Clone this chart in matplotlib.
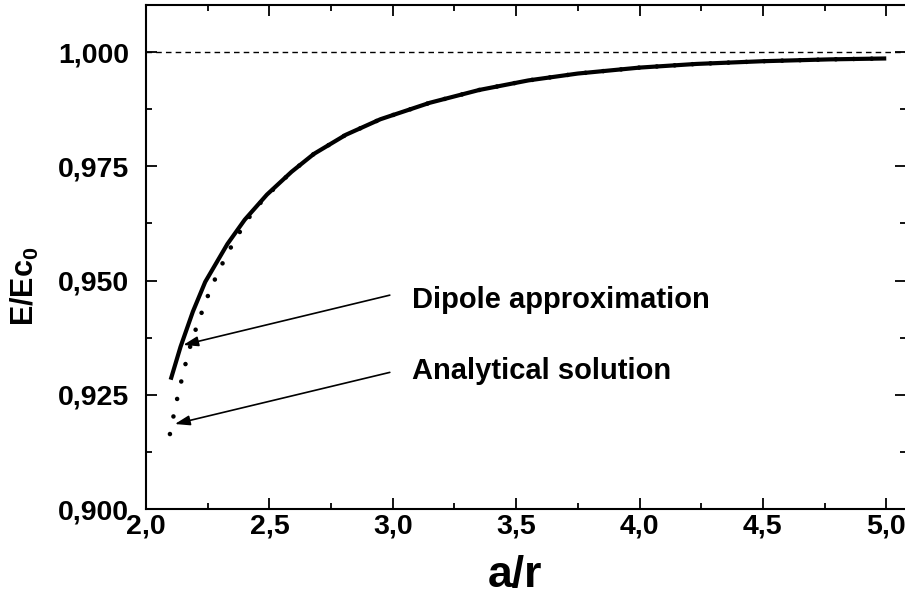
import matplotlib
matplotlib.use("Agg")
import matplotlib.pyplot as plt
from matplotlib.ticker import MultipleLocator, FuncFormatter

plt.rcParams['font.family'] = ['Liberation Sans', 'DejaVu Sans']
plt.rcParams['font.weight'] = 'bold'
plt.rcParams['mathtext.fontset'] = 'custom'
plt.rcParams['mathtext.rm'] = 'Liberation Sans:bold'
plt.rcParams['mathtext.it'] = 'Liberation Sans:bold'
plt.rcParams['mathtext.bf'] = 'Liberation Sans:bold'

# Dipole approximation (solid curve)
dipole_x = [2.10, 2.14, 2.19, 2.24, 2.33, 2.40, 2.49, 2.59, 2.68, 2.81,
            2.95, 3.15, 3.35, 3.55, 3.75, 4.00, 4.23, 4.50, 4.77, 5.00]
dipole_y = [0.9283, 0.9355, 0.9432, 0.9497, 0.9580, 0.9633, 0.9688, 0.9738,
            0.9777, 0.9819, 0.9853, 0.9889, 0.9917, 0.9938, 0.9953, 0.9966,
            0.9974, 0.9980, 0.9984, 0.9986]

# Analytical solution (dotted curve)
analytic_x = [2.097, 2.108, 2.120, 2.132, 2.146, 2.159, 2.174, 2.192, 2.211,
              2.232, 2.254, 2.278, 2.304, 2.332, 2.364, 2.398, 2.438, 2.49,
              2.59, 2.68, 2.81, 2.95, 3.15, 3.35, 3.55, 3.75, 4.00, 4.23,
              4.50, 4.77, 5.00]
analytic_y = [0.9164, 0.9194, 0.9226, 0.9255, 0.9286, 0.9315, 0.9347, 0.9377,
              0.9409, 0.9439, 0.9471, 0.9501, 0.9531, 0.9561, 0.9592, 0.9622,
              0.9654, 0.9686, 0.9738, 0.9777, 0.9819, 0.9853, 0.9889, 0.9917,
              0.9938, 0.9953, 0.9966, 0.9974, 0.9980, 0.9984, 0.9986]

reference_level = 1.000

labels = ["Dipole approximation", "Analytical solution"]
arrow_tips = [(2.151, 0.9359), (2.117, 0.9186)]
arrow_tails = [(2.988, 0.9468), (2.988, 0.9299)]
label_pos = [(3.077, 0.9458), (3.077, 0.9302)]

fig = plt.figure(figsize=(9.05, 6.0), dpi=100)
ax = fig.add_axes([146 / 905, 91 / 600, 760 / 905, 504 / 600])

ax.axhline(reference_level, color='black', lw=1.0, dashes=(4, 3))
ax.plot(analytic_x, analytic_y, color='black', lw=3.3,
        linestyle=(0, (0.01, 3.9)), dash_capstyle='round')
ax.plot(dipole_x, dipole_y, color='black', lw=3.0, solid_capstyle='butt',
        solid_joinstyle='round')

for text, tip, tail, pos in zip(labels, arrow_tips, arrow_tails, label_pos):
    ax.annotate('', xy=tip, xytext=tail,
                arrowprops=dict(arrowstyle='-|>,head_length=0.9,head_width=0.3',
                                color='black', lw=1.2, shrinkA=0, shrinkB=0))
    ax.text(pos[0], pos[1], text, fontsize=21, fontweight='bold',
            ha='left', va='center')

ax.set_xlim(2.0, 5.08)
ax.set_ylim(0.900, 1.0103)

ax.xaxis.set_major_locator(MultipleLocator(0.5))
ax.xaxis.set_minor_locator(MultipleLocator(0.25))
ax.yaxis.set_major_locator(MultipleLocator(0.025))
ax.yaxis.set_minor_locator(MultipleLocator(0.0125))

ax.xaxis.set_major_formatter(FuncFormatter(lambda v, p: f"{v:.1f}".replace('.', ',')))
ax.yaxis.set_major_formatter(FuncFormatter(lambda v, p: f"{v:.3f}".replace('.', ',')))

ax.tick_params(which='both', direction='in', top=True, right=True, width=1.3)
ax.tick_params(which='major', length=8, labelsize=20.5)
ax.tick_params(which='minor', length=4.5)
ax.tick_params(axis='x', which='major', pad=3)
ax.tick_params(axis='y', which='major', pad=12)
for lab in ax.get_xticklabels() + ax.get_yticklabels():
    lab.set_fontweight('bold')

for s in ax.spines.values():
    s.set_linewidth(1.5)

ax.set_xlabel('a/r', fontsize=32, fontweight='bold', va='center')
ax.xaxis.set_label_coords(0.4855, -0.131)
ax.set_ylabel(r'E/Ec$_0$', fontsize=22, fontweight='bold', va='center')
ax.yaxis.set_label_coords(-0.159, 0.442)

fig.savefig('out.png', dpi=100)
